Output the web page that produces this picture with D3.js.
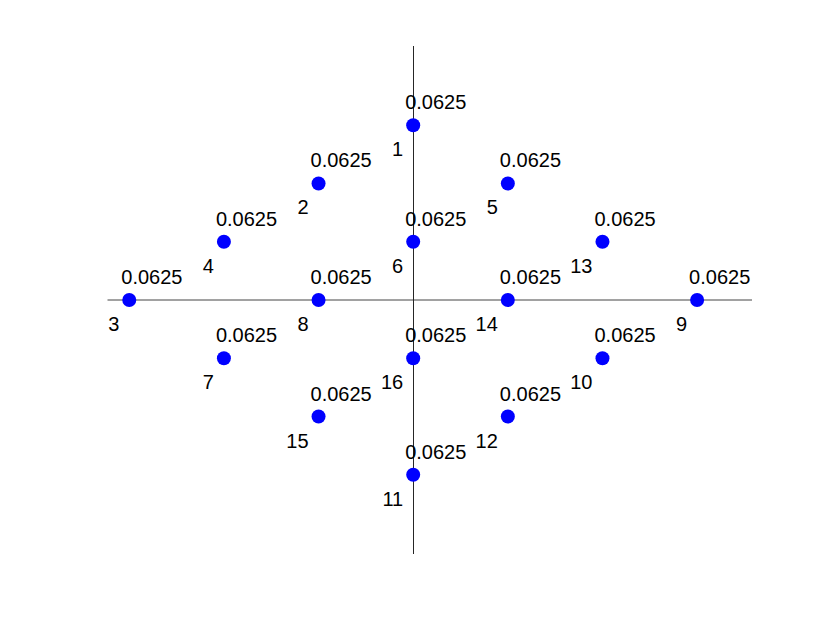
<!DOCTYPE html>
<html>
<head>
<meta charset="utf-8">
<script src="https://cdn.jsdelivr.net/npm/d3@7"></script>
<style>
  body { margin: 0; background: #fff; }
  text { font-family: "Liberation Sans", Arial, Helvetica, sans-serif; }
</style>
</head>
<body>
<div id="chart"></div>
<script>
// >-----------------< Data >-------------------<
const pointIds = [1, 2, 3, 4, 5, 6, 7, 8, 9, 10, 11, 12, 13, 14, 15, 16];
const xValues = [0, -1, -3, -2, 1, 0, -2, -1, 3, 2, 0, 1, 2, 1, -1, 0];
const yValues = [3, 2, 0, 1, 2, 1, -1, 0, 0, -1, -3, -2, 1, 0, -2, -1];
const probValues = [0.0625, 0.0625, 0.0625, 0.0625, 0.0625, 0.0625, 0.0625, 0.0625,
                    0.0625, 0.0625, 0.0625, 0.0625, 0.0625, 0.0625, 0.0625, 0.0625];
const xDomain = [-3.23, 3.58];
const yDomain = [-4.36, 4.36];

// >-----------------< Chart >-------------------<
const width = 830, height = 623;

const svg = d3.select("#chart")
  .append("svg")
  .attr("width", width)
  .attr("height", height);

const x = d3.scaleLinear().domain(xDomain).range([107.5, 752]);
const y = d3.scaleLinear().domain(yDomain).range([554, 46]);

const points = pointIds.map((id, i) => ({
  id,
  x: xValues[i],
  y: yValues[i],
  p: probValues[i]
}));

// Axes through the origin
svg.append("line")
  .attr("x1", x(xDomain[0])).attr("x2", x(xDomain[1]))
  .attr("y1", y(0)).attr("y2", y(0))
  .attr("stroke", "#444")
  .attr("stroke-width", 1);

svg.append("line")
  .attr("x1", Math.round(x(0)) + 0.5).attr("x2", Math.round(x(0)) + 0.5)
  .attr("y1", y(yDomain[0])).attr("y2", y(yDomain[1]))
  .attr("stroke", "#262626")
  .attr("stroke-width", 1);

// Dots
svg.selectAll(".dot")
  .data(points)
  .enter().append("circle")
  .attr("class", "dot")
  .attr("cx", d => x(d.x))
  .attr("cy", d => y(d.y))
  .attr("r", 7)
  .attr("fill", "#0000ff");

// Probability labels
svg.selectAll(".prob")
  .data(points)
  .enter().append("text")
  .attr("class", "prob")
  .attr("x", d => x(d.x) - 8)
  .attr("y", d => y(d.y) - 16)
  .attr("font-size", "20px")
  .attr("fill", "#000")
  .text(d => d.p);

// Index labels
svg.selectAll(".idx")
  .data(points)
  .enter().append("text")
  .attr("class", "idx")
  .attr("x", d => x(d.x) - 10)
  .attr("y", d => y(d.y) + 31)
  .attr("font-size", "20px")
  .attr("text-anchor", "end")
  .attr("fill", "#000")
  .text(d => d.id);
</script>
</body>
</html>
